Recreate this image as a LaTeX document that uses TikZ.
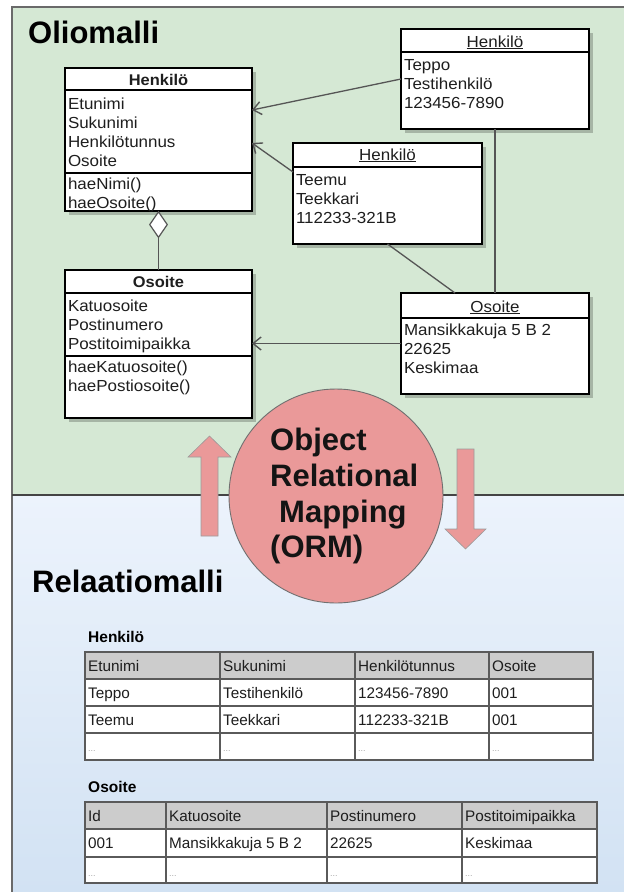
\documentclass[tikz,border=0pt]{standalone}
\usepackage{fontspec}
\setmainfont{Liberation Sans}
\newfontfamily\umlf{Liberation Sans}[FakeStretch=1.06]
\newfontfamily\tabf{Liberation Sans}
\usetikzlibrary{arrows.meta,shapes.geometric}

\definecolor{frameline}{HTML}{6A6A6A}
\definecolor{divline}{HTML}{444444}
\definecolor{olive}{HTML}{D5E8D4}
\definecolor{reltop}{HTML}{ECF3FC}
\definecolor{relbot}{HTML}{D2E2F3}
\definecolor{ormfill}{HTML}{EA9999}
\definecolor{ormline}{HTML}{707070}
\definecolor{linkc}{HTML}{555555}
\definecolor{inkc}{HTML}{1E1E1E}
\definecolor{headc}{HTML}{CCCCCC}
\definecolor{gridc}{HTML}{5A5A5A}
\definecolor{dotc}{HTML}{A8A8A8}

\begin{document}
\begin{tikzpicture}[x=1pt,y=-1pt,
  box/.style={draw=black, fill=white, line width=1.1pt, anchor=north west,
    inner sep=0pt, outer sep=0pt},
  objbox/.style={box, line width=2pt},
  boxshadow/.style={fill=black, fill opacity=0.22},
  txt/.style={anchor=base west, inner sep=0pt, outer sep=0pt, text=inkc,
    font=\umlf\fontsize{16}{19}\selectfont},
  hdr/.style={anchor=base, inner sep=0pt, outer sep=0pt, text=inkc,
    font=\umlf\bfseries\fontsize{15.5}{19}\selectfont},
  ohdr/.style={anchor=base, inner sep=0pt, outer sep=0pt, text=inkc,
    font=\umlf\fontsize{16}{19}\selectfont},
  sepline/.style={draw=black, line width=1.8pt},
  thinsep/.style={draw=black, line width=1.1pt},
  link/.style={draw=linkc, line width=1.3pt},
  assoc/.style={link, -{Straight Barb[length=8pt,width=13pt,line width=1.4pt]}},
  title/.style={anchor=base west, inner sep=0pt, text=black,
    font=\bfseries\fontsize{31}{36}\selectfont},
  ormtxt/.style={anchor=base west, inner sep=0pt, text=black!92,
    font=\bfseries\fontsize{31}{36}\selectfont},
  tabhead/.style={anchor=base west, inner sep=0pt, text=black,
    font=\tabf\bfseries\fontsize{15.5}{19}\selectfont},
  cell/.style={anchor=base west, inner sep=0pt, text=inkc,
    font=\tabf\fontsize{15.3}{19}\selectfont},
  dots/.style={anchor=base west, inner sep=0pt, text=dotc,
    font=\tabf\fontsize{9}{10}\selectfont},
  blockarrow/.style={fill=ormfill, draw=ormline!70, line width=0.6pt}
]
\useasboundingbox (0,0) rectangle (624,892);

% ---------- panels ----------
\fill[olive] (12,7) rectangle (624,495);
\shade[top color=reltop, bottom color=relbot] (12,495) rectangle (624,892);
\draw[frameline, line width=1.4pt] (12,892) -- (12,7) -- (624,7);
\draw[divline, line width=1.6pt] (12,495) -- (624,495);

\node[title] (olio) at (28,43) {Oliomalli};

% ---------- shadows ----------
\fill[boxshadow] (69,72) rectangle (256,215);
\fill[boxshadow] (69,274) rectangle (256,422);
\fill[boxshadow] (405,33) rectangle (593,133);
\fill[boxshadow] (297,147) rectangle (486,248);
\fill[boxshadow] (405,297) rectangle (593,398);

% ---------- class Henkilö ----------
\node[box, minimum width=187pt, minimum height=143pt] (henk) at (65,68) {};
\draw[sepline] (65,90) -- (252,90);
\draw[thinsep] (65,173) -- (252,173);
\node[hdr] (henkh) at (158.5,85) {Henkilö};
\node[txt] (ha1) at (68,109) {Etunimi};
\node[txt] (ha2) at (68,128) {Sukunimi};
\node[txt] (ha3) at (68,147) {Henkilötunnus};
\node[txt] (ha4) at (68,166) {Osoite};
\node[txt] (hm1) at (68,189) {haeNimi()};
\node[txt] (hm2) at (68,208) {haeOsoite()};

% ---------- class Osoite ----------
\node[box, minimum width=187pt, minimum height=148pt] (oscl) at (65,270) {};
\draw[sepline] (65,293) -- (252,293);
\draw[thinsep] (65,356) -- (252,356);
\node[hdr] (osh) at (158.5,287) {Osoite};
\node[txt] (oa1) at (68,311) {Katuosoite};
\node[txt] (oa2) at (68,330) {Postinumero};
\node[txt] (oa3) at (68,349) {Postitoimipaikka};
\node[txt] (om1) at (68,372) {haeKatuosoite()};
\node[txt] (om2) at (68,391) {haePostiosoite()};

% ---------- object Teppo ----------
\node[objbox, minimum width=188pt, minimum height=100pt] (teppo) at (401,29) {};
\draw[sepline, line width=2pt] (401,52) -- (589,52);
\node[ohdr] (teppoh) at (495,47) {\underline{Henkilö}};
\node[txt] (tp1) at (404,70) {Teppo};
\node[txt] (tp2) at (404,89) {Testihenkilö};
\node[txt] (tp3) at (404,108) {123456-7890};

% ---------- object Teemu ----------
\node[objbox, minimum width=189pt, minimum height=101pt] (teemu) at (293,143) {};
\draw[sepline, line width=2pt] (293,167) -- (482,167);
\node[ohdr] (teemuh) at (387.5,160) {\underline{Henkilö}};
\node[txt] (tm1) at (296,185) {Teemu};
\node[txt] (tm2) at (296,204) {Teekkari};
\node[txt] (tm3) at (296,223) {112233-321B};

% ---------- object Osoite ----------
\node[objbox, minimum width=188pt, minimum height=101pt] (osin) at (401,293) {};
\draw[sepline, line width=2pt] (401,318) -- (589,318);
\node[ohdr] (osinh) at (495,312) {\underline{Osoite}};
\node[txt] (oi1) at (404,335) {Mansikkakuja 5 B 2};
\node[txt] (oi2) at (404,354) {22625};
\node[txt] (oi3) at (404,373) {Keskimaa};

% ---------- connectors ----------
\node[diamond, draw=linkc, fill=white, line width=1.2pt, inner sep=0pt,
      minimum width=18pt, minimum height=26pt, anchor=north] (agg) at (henk.south) {};
\draw[link] (agg.south) -- (oscl.north);
\draw[assoc] (teppo.west) -- ([yshift=29.5pt]henk.east);
\draw[assoc] ([yshift=21.5pt]teemu.west) -- ([yshift=-3.5pt]henk.east);
\draw[assoc] (osin.west) -- (osin.west -| oscl.east);
\draw[link] (teppo.south) -- (teppo.south |- osin.north);
\draw[link] (teemu.south) -- ([xshift=-40pt]osin.north);

% ---------- ORM block arrows and circle ----------
\draw[blockarrow] (201,536) -- (201,457) -- (188,457) -- (209.5,436)
  -- (231,457) -- (218,457) -- (218,536) -- cycle;
\draw[blockarrow] (457,449) -- (457,529) -- (445,529) -- (465.5,549)
  -- (486,529) -- (474,529) -- (474,449) -- cycle;
\node[circle, fill=ormfill, draw=ormline, line width=0.9pt,
      minimum size=214pt, inner sep=0pt] (orm) at (336,496) {};
\node[ormtxt] (orm1) at (270,450) {Object};
\node[ormtxt] (orm2) at (270,486) {Relational};
\node[ormtxt] (orm3) at (279,522) {Mapping};
\node[ormtxt] (orm4) at (270,557) {(ORM)};

% ---------- relational model ----------
\node[title] (rela) at (32,592) {Relaatiomalli};

% table Henkilö
\node[tabhead] (th1) at (88,642) {Henkilö};
\fill[headc] (85,652) rectangle (593,679);
\fill[white] (85,679) rectangle (593,760);
\draw[gridc, line width=1.4pt] (85,652) rectangle (593,760);
\foreach \yy in {679,706,733} \draw[gridc, line width=1.4pt] (85,\yy) -- (593,\yy);
\foreach \xx in {220,355,489} \draw[gridc, line width=1.4pt] (\xx,652) -- (\xx,760);
\foreach \xx/\tt [count=\i] in {88/Etunimi,223/Sukunimi,358/Henkilötunnus,492/Osoite}
  \node[cell] (hc0\i) at (\xx,671) {\tt};
\foreach \xx/\tt [count=\i] in {88/Teppo,223/Testihenkilö,358/123456-7890,492/001}
  \node[cell] (hc1\i) at (\xx,698) {\tt};
\foreach \xx/\tt [count=\i] in {88/Teemu,223/Teekkari,358/112233-321B,492/001}
  \node[cell] (hc2\i) at (\xx,725) {\tt};
\foreach \xx [count=\i] in {88,223,358,492}
  \node[dots] (hc3\i) at (\xx,751) {...};

% table Osoite
\node[tabhead] (th2) at (88,792) {Osoite};
\fill[headc] (85,802) rectangle (597,829);
\fill[white] (85,829) rectangle (597,883);
\draw[gridc, line width=1.4pt] (85,802) rectangle (597,883);
\foreach \yy in {829,857} \draw[gridc, line width=1.4pt] (85,\yy) -- (597,\yy);
\foreach \xx in {166,327,462} \draw[gridc, line width=1.4pt] (\xx,802) -- (\xx,883);
\foreach \xx/\tt [count=\i] in {88/Id,169/Katuosoite,330/Postinumero,465/Postitoimipaikka}
  \node[cell] (oc0\i) at (\xx,821) {\tt};
\foreach \xx/\tt [count=\i] in {88/001,169/Mansikkakuja 5 B 2,330/22625,465/Keskimaa}
  \node[cell] (oc1\i) at (\xx,848) {\tt};
\foreach \xx [count=\i] in {88,169,330,465}
  \node[dots] (oc2\i) at (\xx,876) {...};
\end{tikzpicture}
\end{document}
